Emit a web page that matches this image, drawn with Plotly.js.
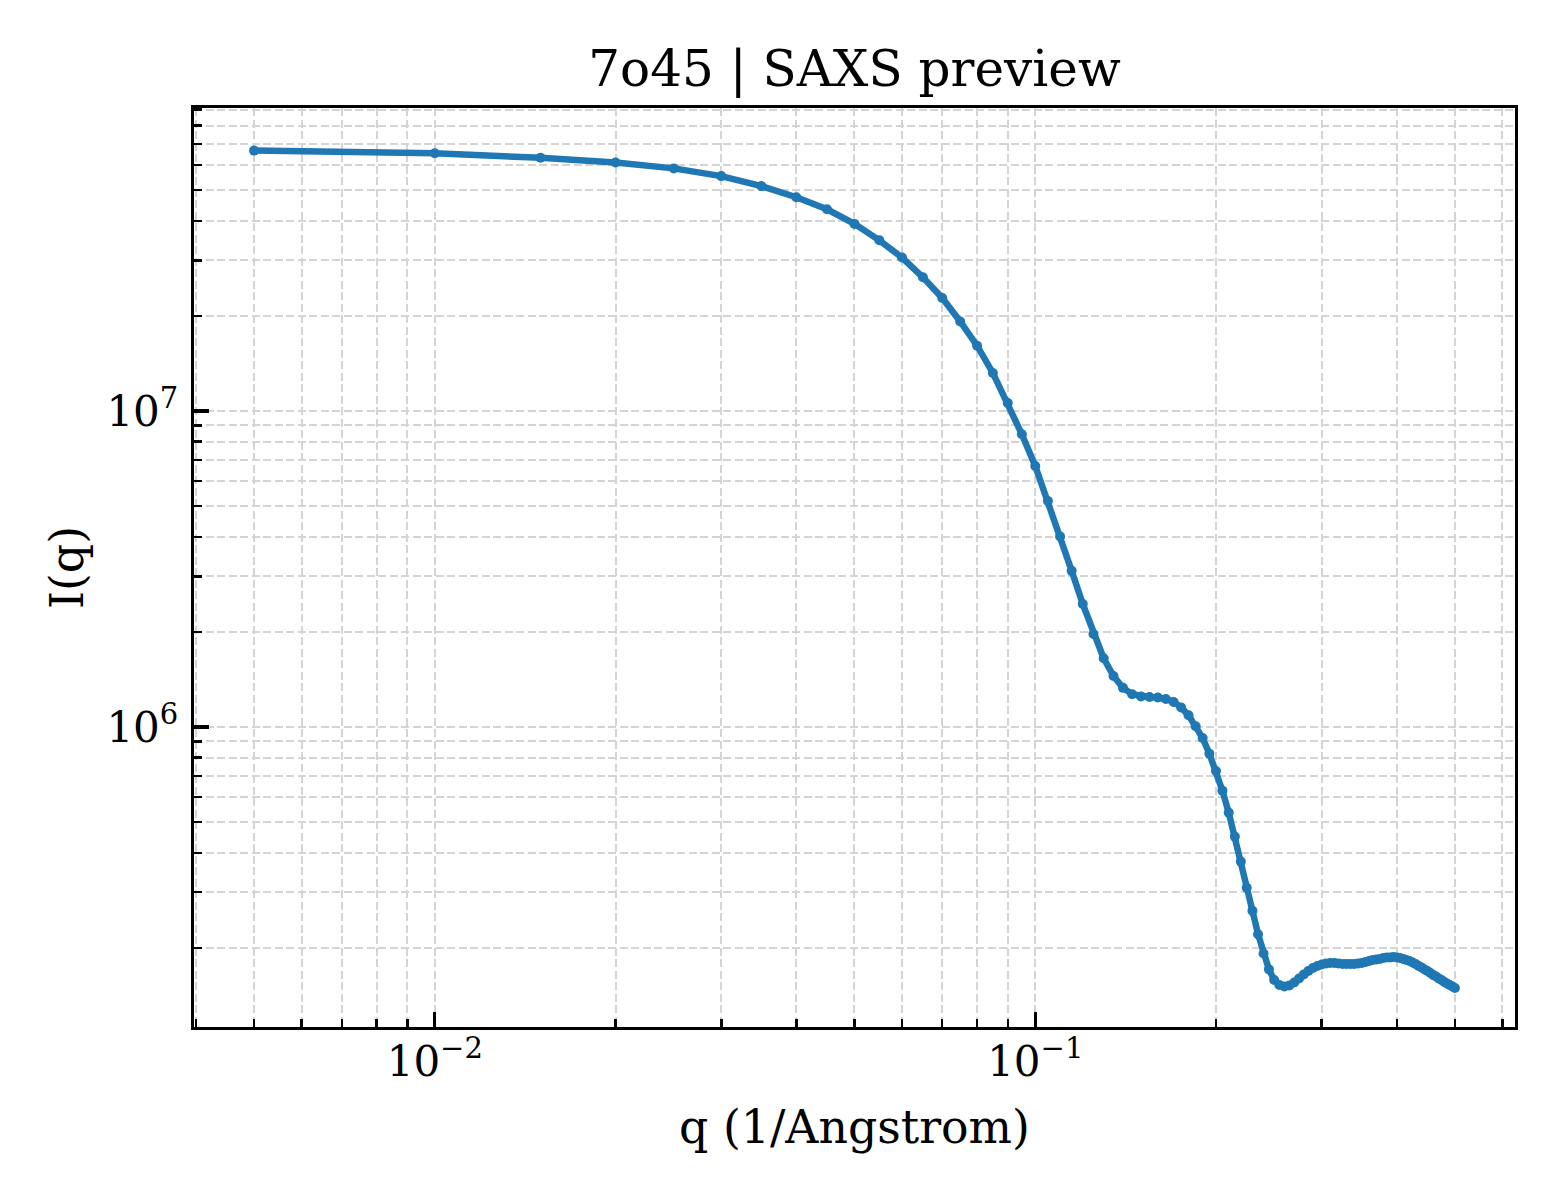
<!DOCTYPE html>
<html>
<head>
<meta charset="utf-8">
<script src="https://cdn.plot.ly/plotly-3.0.1.min.js"></script>
<style>html,body{margin:0;padding:0;background:#fff;}#chart{width:1560px;height:1200px;}</style>
</head>
<body>
<div id="chart"></div>
<script>
// q values (1/Angstrom)
const qValues = [
  0.005, 0.010, 0.015, 0.020, 0.025, 0.030, 0.035, 0.040, 0.045, 0.050,
  0.055, 0.060, 0.065, 0.070, 0.075, 0.080, 0.085, 0.090, 0.095, 0.100,
  0.105, 0.110, 0.115, 0.120, 0.125, 0.130, 0.135, 0.140, 0.145, 0.150,
  0.155, 0.160, 0.165, 0.170, 0.175, 0.180, 0.185, 0.190, 0.195, 0.200,
  0.205, 0.210, 0.215, 0.220, 0.225, 0.230, 0.235, 0.240, 0.245, 0.250,
  0.255, 0.260, 0.265, 0.270, 0.275, 0.280, 0.285, 0.290, 0.295, 0.300,
  0.305, 0.310, 0.315, 0.320, 0.325, 0.330, 0.335, 0.340, 0.345, 0.350,
  0.355, 0.360, 0.365, 0.370, 0.375, 0.380, 0.385, 0.390, 0.395, 0.400,
  0.405, 0.410, 0.415, 0.420, 0.425, 0.430, 0.435, 0.440, 0.445, 0.450,
  0.455, 0.460, 0.465, 0.470, 0.475, 0.480, 0.485, 0.490, 0.495, 0.500
];
// I(q) values
const intensity = [
  6.67e7, 6.54e7, 6.33e7, 6.12e7, 5.86e7, 5.54e7, 5.15e7, 4.75e7, 4.35e7, 3.91e7,
  3.47e7, 3.06e7, 2.65e7, 2.28e7, 1.92e7, 1.61e7, 1.32e7, 1.06e7, 8.44e6, 6.70e6,
  5.19e6, 4.01e6, 3.12e6, 2.45e6, 1.97e6, 1.65e6, 1.45e6, 1.33e6, 1.27e6, 1.25e6,
  1.244e6, 1.24e6, 1.227e6, 1.20e6, 1.153e6, 1.09e6, 1.005e6, 9.23e5, 8.23e5, 7.26e5,
  6.29e5, 5.36e5, 4.50e5, 3.75e5, 3.10e5, 2.62e5, 2.21e5, 1.92e5, 1.71e5, 1.583e5,
  1.526e5, 1.510e5, 1.521e5, 1.554e5, 1.600e5, 1.648e5, 1.690e5, 1.727e5, 1.753e5, 1.772e5,
  1.785e5, 1.792e5, 1.792e5, 1.785e5, 1.778e5, 1.778e5, 1.778e5, 1.778e5, 1.785e5, 1.792e5,
  1.804e5, 1.818e5, 1.831e5, 1.838e5, 1.845e5, 1.858e5, 1.865e5, 1.865e5, 1.872e5, 1.865e5,
  1.858e5, 1.845e5, 1.831e5, 1.818e5, 1.798e5, 1.778e5, 1.753e5, 1.733e5, 1.708e5, 1.690e5,
  1.666e5, 1.642e5, 1.624e5, 1.600e5, 1.583e5, 1.560e5, 1.543e5, 1.526e5, 1.510e5, 1.493e5
];
// major tick positions and labels (base 10, exponent)
const xTickVals = [0.01, 0.1];
const xTickExp = ["\u22122", "\u22121"];
const yTickVals = [1e6, 1e7];
const yTickExp = ["6", "7"];

const chartTitle = "7o45 | SAXS preview";
const xTitle = "q (1/Angstrom)";
const yTitle = "I(q)";

const FONT = "DejaVu Serif, Liberation Serif, serif";
const TICK_SIZE = 42;
const EXP_SIZE = 29;
const gridColor = "#d4d4d4";
const gridDash = "8px,3.5px";

function powLabel(e) {
  return "10<sup><span style=\"font-size:" + EXP_SIZE + "px\">" + e + "</span></sup>";
}

function axisBase(vals, exps) {
  return {
    type: "log",
    tickmode: "array",
    tickvals: vals,
    ticktext: exps.map(powLabel),
    showline: true,
    linecolor: "#000",
    linewidth: 3.3,
    mirror: true,
    ticks: "inside",
    ticklen: 15,
    tickwidth: 3.3,
    tickcolor: "#000",
    showgrid: true,
    gridcolor: gridColor,
    gridwidth: 2,
    griddash: gridDash,
    zeroline: false,
    tickfont: {family: FONT, size: TICK_SIZE, color: "#000"},
    minor: {
      dtick: "D1",
      ticks: "inside",
      ticklen: 8,
      tickwidth: 2.5,
      tickcolor: "#000",
      showgrid: true,
      gridcolor: gridColor,
      gridwidth: 2,
      griddash: gridDash
    }
  };
}

const trace = {
  x: qValues,
  y: intensity,
  type: "scatter",
  mode: "lines+markers",
  line: {color: "#1f77b4", width: 6.5},
  marker: {color: "#1f77b4", size: 10},
  hoverinfo: "skip"
};

const xaxis = Object.assign(axisBase(xTickVals, xTickExp), {
  range: [-2.401, -0.201],
  title: {text: xTitle, font: {family: FONT, size: 45.8, color: "#000"}, standoff: 27},
  ticklabelstandoff: -5,
  automargin: false
});
const yaxis = Object.assign(axisBase(yTickVals, yTickExp), {
  range: [5.0506, 7.959],
  title: {text: yTitle, font: {family: FONT, size: 45.8, color: "#000"}, standoff: 9},
  ticklabelstandoff: 4,
  automargin: false
});

const layout = {
  width: 1560,
  height: 1200,
  paper_bgcolor: "#fff",
  plot_bgcolor: "#fff",
  margin: {l: 194, r: 45, t: 108, b: 173, pad: 0},
  showlegend: false,
  title: {
    text: chartTitle,
    font: {family: FONT, size: 50, color: "#000"},
    x: 0.5, xref: "paper", xanchor: "center",
    y: 1 - 68 / 1200, yref: "container", yanchor: "middle"
  },
  xaxis: xaxis,
  yaxis: yaxis
};

Plotly.newPlot("chart", [trace], layout, {staticPlot: true, displayModeBar: false});
</script>
</body>
</html>
